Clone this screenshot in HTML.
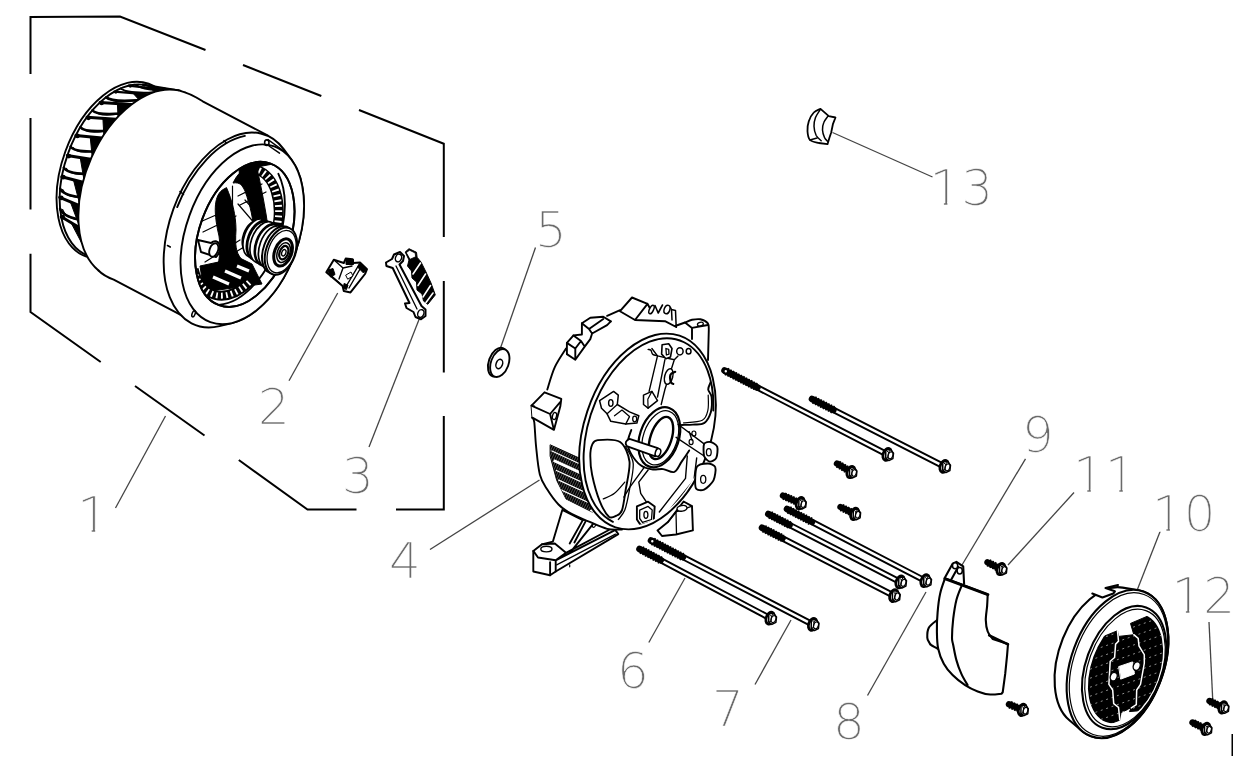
<!DOCTYPE html>
<html><head><meta charset="utf-8"><title>Exploded view</title>
<style>
html,body{margin:0;padding:0;background:#fff;}
body{width:1233px;height:782px;overflow:hidden;position:relative;}
svg{position:absolute;left:0;top:0;display:block;}
.lbl{font-family:"DejaVu Sans Light","DejaVu Sans","Liberation Sans",sans-serif;font-weight:200;font-size:50px;fill:#6a6a6a;stroke:#fff;stroke-width:0.6px;}
.fr{stroke:#000;stroke-width:2;fill:none;stroke-linecap:butt;}
.ld{stroke:#444;stroke-width:1.3;fill:none;}
.p{stroke:#000;stroke-width:1.9;fill:none;stroke-linejoin:round;stroke-linecap:round;}
.pw{stroke:#000;stroke-width:1.9;fill:#fff;stroke-linejoin:round;stroke-linecap:round;}
.k{fill:#000;stroke:#000;stroke-width:1;stroke-linejoin:round;}
#part9 .p,#part9 .pw,#part10 .p,#part10 .pw{stroke-width:2.1px}
</style></head>
<body>
<svg width="1233" height="782" viewBox="0 0 1233 782">
<rect width="1233" height="782" fill="#fff"/>
<!-- FRAME -->
<g class="fr" id="frame">
<path d="M30.5 74V17L120 16.5L205.5 50"/>
<path d="M243 65L321.3 96"/>
<path d="M359 110L443.8 143.8V237"/>
<path d="M443.8 281V372.5"/>
<path d="M443.8 416V509.5H396"/>
<path d="M356.5 509.5H307.5L238.8 460"/>
<path d="M204.5 435.5L135 386"/>
<path d="M100.7 362L30.5 312V253.8"/>
<path d="M30.5 209.5V118"/>
</g>
<!-- LEADERS -->
<g class="ld" id="leaders">
<path d="M165.5 416L115.5 508"/>
<path d="M337.7 293L289 380.7"/>
<path d="M420 317L369 447"/>
<path d="M539.5 480L430 549.5"/>
<path d="M535.5 247.5L500.5 348"/>
<path d="M685 578L648.8 642.5"/>
<path d="M791 620L755 684.5"/>
<path d="M926 592L867.5 695.5"/>
<path d="M1025.5 458.8L962 565"/>
<path d="M1074 492.5L1008 565"/>
<path d="M1160.5 530.5L1137 590.5"/>
<path d="M1209 622L1212.7 699"/>
<path d="M832.5 132.5L932.5 177"/>
</g>
<!-- PARTS -->
<g id="rotor">
<ellipse class="p" cx="117.2" cy="170.1" rx="55.1" ry="91.9" transform="rotate(20 117.2 170.1)"/>
<ellipse class="p" cx="119.2" cy="171.1" rx="54.1" ry="90.2" transform="rotate(20 119.2 171.1)"/>
<path class="p" d="M61.2 216.7L78.9 227.2" style="stroke-width:3"/>
<circle cx="62.7" cy="217.2" r="2.4" fill="#000"/>
<path class="p" d="M60.1 208.7Q61.7 215.4 78.4 219.6" style="stroke-width:2.6"/>
<path class="p" d="M62.6 209.7Q64.7 217.4 78.4 219.6" style="stroke-width:1.4"/>
<path class="p" d="M59.7 197.4L78.9 205.3" style="stroke-width:3"/>
<circle cx="61.2" cy="197.9" r="2.4" fill="#000"/>
<path class="p" d="M60.2 188.7Q62.1 194.8 79.8 197.2" style="stroke-width:2.6"/>
<path class="p" d="M62.7 189.7Q65.1 196.8 79.8 197.2" style="stroke-width:1.4"/>
<path class="p" d="M61.8 176.7L82.9 182.2" style="stroke-width:3"/>
<circle cx="63.3" cy="177.2" r="2.4" fill="#000"/>
<path class="p" d="M63.8 167.6Q66.1 173.2 85.3 174" style="stroke-width:2.6"/>
<path class="p" d="M66.3 168.6Q69.1 175.2 85.3 174" style="stroke-width:1.4"/>
<path class="p" d="M67.3 155.6L90.7 159.3" style="stroke-width:3"/>
<circle cx="68.8" cy="156.1" r="2.4" fill="#000"/>
<path class="p" d="M70.6 146.7Q73.6 151.9 94.4 151.4" style="stroke-width:2.6"/>
<path class="p" d="M73.1 147.7Q76.6 153.9 94.4 151.4" style="stroke-width:1.4"/>
<path class="p" d="M75.9 135.4L101.9 137.9" style="stroke-width:3"/>
<circle cx="77.4" cy="135.9" r="2.4" fill="#000"/>
<path class="p" d="M80.4 127.3Q83.9 132.2 106.6 130.8" style="stroke-width:2.6"/>
<path class="p" d="M82.9 128.3Q86.9 134.2 106.6 130.8" style="stroke-width:1.4"/>
<path class="p" d="M87 117.3L115.8 119.2" style="stroke-width:3"/>
<circle cx="88.5" cy="117.8" r="2.4" fill="#000"/>
<path class="p" d="M92.4 110.5Q96.6 115.2 121.3 113.5" style="stroke-width:2.6"/>
<path class="p" d="M94.9 111.5Q99.6 117.2 121.3 113.5" style="stroke-width:1.4"/>
<path class="p" d="M100.1 102.4L131.6 104.5" style="stroke-width:3"/>
<circle cx="101.6" cy="102.9" r="2.4" fill="#000"/>
<path class="p" d="M106.1 97.3Q110.9 102 137.5 100.3" style="stroke-width:2.6"/>
<path class="p" d="M108.6 98.3Q113.9 104 137.5 100.3" style="stroke-width:1.4"/>
<path class="p" d="M114.3 91.6L148.2 94.5" style="stroke-width:2.2"/>
<circle cx="115.8" cy="92.1" r="1.6" fill="#000"/>
<path class="p" d="M120.5 88.4Q125.9 93.4 154.2 92.2" style="stroke-width:1.6"/>
<path class="p" d="M123 89.4Q128.9 95.4 154.2 92.2" style="stroke-width:1.4"/>
<path class="p" d="M128.8 85.6L164.9 89.8" style="stroke-width:2.2"/>
<circle cx="130.3" cy="86.1" r="1.6" fill="#000"/>
<path class="p" d="M134.8 84.5Q140.8 89.8 170.6 89.5" style="stroke-width:1.6"/>
<path class="p" d="M137.3 85.5Q143.8 91.8 170.6 89.5" style="stroke-width:1.4"/>
<path class="p" d="M142.7 84.6L180.4 90.8" style="stroke-width:2.2"/>
<circle cx="144.2" cy="85.1" r="1.6" fill="#000"/>
<path class="p" d="M148.3 85.7Q154.6 91.4 185.6 92.6" style="stroke-width:1.6"/>
<path class="p" d="M150.8 86.7Q157.6 93.4 185.6 92.6" style="stroke-width:1.4"/>
<path class="p" d="M155.2 88.7L194 97.4" style="stroke-width:2.2"/>
<circle cx="156.7" cy="89.2" r="1.6" fill="#000"/>
<path class="p" d="M159.9 92Q166.5 98.3 198.2 101.1" style="stroke-width:1.6"/>
<path class="p" d="M162.4 93Q169.5 100.3 198.2 101.1" style="stroke-width:1.4"/>
<path class="p" d="M165.6 97.8L204.8 109.2" style="stroke-width:2.2"/>
<circle cx="167.1" cy="98.3" r="1.6" fill="#000"/>
<path class="p" d="M169.2 103Q175.9 109.9 207.9 114.5" style="stroke-width:1.6"/>
<path class="p" d="M171.7 104Q178.9 111.9 207.9 114.5" style="stroke-width:1.4"/>
<path class="k" d="M70.9 222.5L78.9 227.2L82.2 244Z"/>
<path class="k" d="M70.3 201.8L78.9 205.3L78.7 224.2Z"/>
<path class="k" d="M73.4 179.7L82.9 182.2L79.2 202.1Z"/>
<path class="k" d="M80.2 157.6L90.7 159.3L83.8 178.9Z"/>
<path class="k" d="M90.2 136.7L101.9 137.9L92.1 156.1Z"/>
<path class="k" d="M102.9 118.4L115.8 119.2L103.8 135Z"/>
<path class="k" d="M117.4 103.6L131.6 104.5L118 116.9Z"/>
<path class="k" d="M133 93.2L148.2 94.5L138.7 99.6Z"/>
<path class="k" d="M148.6 87.9L164.9 89.8L155.4 91.8Z"/>
<path class="k" d="M163.4 88L180.4 90.8L171.7 89.6Z"/>
<path class="k" d="M176.5 93.5L194 97.4L186.5 93Z"/>
<path class="k" d="M187.2 104.1L204.8 109.2L199 101.9Z"/>
<ellipse class="pw" cx="147.2" cy="184.7" rx="61.9" ry="99.8" transform="rotate(22.6 147.2 184.7)" style="stroke:none"/>
<path class="pw" d="M188.7 94L267.5 135.4L184.5 316.8L105.7 275.4Z" style="stroke:none"/>
<path class="p" d="M178.5 90.4A61.9 99.8 22.6 0 0 98.5 270.5"/>
<path class="p" d="M178.5 90.4Q189.7 93 202.7 101.3L267.5 135.4"/>
<path class="p" d="M98.5 270.5Q103.7 275.9 113.7 279.6L184.5 316.8"/>
<path class="pw" d="M219.5 326.1A60.8 101.3 20 1 1 283.9 149.4L291.6 159.9A56.1 93.5 20 0 1 232.2 323Z"/>
<path class="p" d="M177.2 207.1A59.8 99.6 20 0 1 244.9 135.9"/>
<ellipse class="pw" cx="242.3" cy="234.3" rx="56.1" ry="93.5" transform="rotate(20 242.3 234.3)"/>
<ellipse class="pw" cx="244.8" cy="234.4" rx="45.2" ry="75.3" transform="rotate(20 244.8 234.4)"/>
<ellipse class="p" cx="266.8" cy="142.7" rx="2.2" ry="2.8" style="stroke-width:1.6"/>
<path class="p" d="M268 139.6L284.5 151.5M269 146L279.5 153.2" style="stroke-width:1.5"/>
<ellipse class="p" cx="193.6" cy="313.8" rx="1.5" ry="3.2" transform="rotate(20 193.6 313.8)" style="stroke-width:1.5"/>
<path class="p" d="M183.5 194.5L180 191.5M226.5 143L224 140.5M170.3 247L167.5 245.5" style="stroke-width:1.6"/>
<clipPath id="cpE3"><ellipse class="p" cx="244.8" cy="234.4" rx="45.2" ry="75.3" transform="rotate(20 244.8 234.4)"/></clipPath>
<g clip-path="url(#cpE3)">
<path class="p" d="M200 222L232 208M203 232L236 216M238 196L262 184M240 205L266 192M238 204L262 232M245 200L268 226M205 262L240 240M209 268L244 247M232.5 186V212" style="stroke-width:1.2"/>
<path class="pw" d="M198 240L211 243A5 7.5 20 0 1 216 257L201 252Z"/>
<ellipse class="pw" cx="213.8" cy="250" rx="4.2" ry="7" transform="rotate(20 213.8 250)"/>
<path class="p" d="M252.3 169A39.5 65.9 20 0 1 275.1 237" style="stroke-width:10;stroke-linecap:butt"/>
<path class="p" d="M253.7 169.2A39.5 65.9 20 0 1 275.1 237" style="stroke:#fff;stroke-width:7;stroke-dasharray:1.8 3.4;stroke-linecap:butt"/>
<path class="k" d="M222.3 190C213 197 214 215 219 236C221 250 219 258 218.6 262L200 266L204 292L262 284L252 264L241 258.6C236 252 235 246 236 230C236 215 232 200 226.5 187.6Z"/>
<path class="k" d="M239 169.1A45.2 75.3 20 0 1 272 164.2L257 167L240 182Z"/>
<path class="k" d="M233 183C240 168 252 163 263 161L256.5 166C260 181 263.7 200 266.2 215L270 240L254 238C254 220 250 205 245 191C242 185 240 182 233 183Z"/>
<path class="p" d="M249.2 282.4A39.5 65.9 20 0 1 193.6 269.2" style="stroke-width:10;stroke-linecap:butt"/>
<path class="p" d="M249.2 282.4A39.5 65.9 20 0 1 194.1 270.9" style="stroke:#fff;stroke-width:6;stroke-dasharray:1.8 3.2;stroke-linecap:butt"/>
<path class="p" d="M213 277L229 284M225 271L241 278M237 266L249 271" style="stroke:#fff;stroke-width:3.2;stroke-linecap:butt"/>
<path class="p" d="M278.4 173.8A47 78.4 20 0 1 187.8 285.4"/>
</g>
<ellipse class="p" cx="244.8" cy="234.4" rx="45.2" ry="75.3" transform="rotate(20 244.8 234.4)"/>
<ellipse class="pw" cx="253.5" cy="236.8" rx="10.2" ry="17" transform="rotate(20 253.5 236.8)" style="stroke-width:1.7"/>
<ellipse class="pw" cx="256.1" cy="238.2" rx="12" ry="20" transform="rotate(20 256.1 238.2)" style="stroke-width:1.7"/>
<ellipse class="pw" cx="260.1" cy="240.3" rx="12" ry="20" transform="rotate(20 260.1 240.3)" style="stroke-width:2.8"/>
<ellipse class="pw" cx="264.1" cy="242.4" rx="12.9" ry="21.5" transform="rotate(20 264.1 242.4)" style="stroke-width:1.7"/>
<ellipse class="pw" cx="269" cy="244.9" rx="12.9" ry="21.5" transform="rotate(20 269 244.9)" style="stroke-width:2.6"/>
<ellipse class="pw" cx="272.9" cy="247" rx="13.2" ry="22" transform="rotate(20 272.9 247)" style="stroke-width:1.7"/>
<ellipse class="pw" cx="278.2" cy="249.8" rx="14.7" ry="24.5" transform="rotate(20 278.2 249.8)" style="stroke-width:2"/>
<ellipse class="pw" cx="280.9" cy="251.2" rx="14.7" ry="24.5" transform="rotate(20 280.9 251.2)" style="stroke-width:2"/>
<ellipse class="pw" cx="281.6" cy="251.6" rx="13.2" ry="22" transform="rotate(20 281.6 251.6)" style="stroke-width:1.3"/>
<ellipse class="pw" cx="283.1" cy="252.4" rx="8.5" ry="14.2" transform="rotate(20 283.1 252.4)" style="stroke-width:3"/>
<ellipse class="pw" cx="283.6" cy="252.6" rx="6.2" ry="10.3" transform="rotate(20 283.6 252.6)" style="stroke-width:1.5"/>
<ellipse class="pw" cx="283.8" cy="252.7" rx="4.2" ry="7" transform="rotate(20 283.8 252.7)" style="stroke-width:2.2"/>
<ellipse class="pw" cx="283.8" cy="252.7" rx="2" ry="3.3" transform="rotate(20 283.8 252.7)" style="stroke-width:1.4"/>
</g>
<g id="part2">
<path class="pw" d="M326.3 272.3L333.8 259.8L343.8 263L345.7 258.6L352.6 259.2L353.2 263L360 262.5L367 269.2L365 274L350.5 292.4L343.8 291L342.6 286Z" style="stroke-width:2"/>
<path class="p" d="M358.9 264.8L346.3 286M361.5 266.5L349 288M333.8 259.8L343 268L339 279M343 268L352 266M327 272L342.6 286" style="stroke-width:1.4"/>
<path class="k" d="M328 270L333 268.5L335 274.5L330.5 277Z M346 259.5H353.5V264.5H346Z M360 263L366.5 269L363.5 273L357.5 267Z M344 283.5L348 285L346.5 289.5L343.5 288.5Z"/>
<path class="pw" d="M346 275L351 272L353 276L348 279Z" style="stroke-width:1"/>
</g>
<g id="part3">
<path class="pw" d="M386 262.5L392 259L394 254.5L400 252L404 256L403 261L399.5 264.5L421.5 306L425.5 309.5L425.5 316L421 319.3L415.5 317L413.5 312L406.5 308L405 303.5L409.5 303L392.7 268L386.4 266Z" style="stroke-width:2"/>
<path class="p" d="M396 266L417 309" style="stroke-width:1.3"/>
<ellipse class="pw" cx="398.5" cy="258" rx="3" ry="4" transform="rotate(20 398.5 258)" style="stroke-width:1.4"/>
<ellipse class="pw" cx="420.8" cy="313.5" rx="3" ry="4" transform="rotate(20 420.8 313.5)" style="stroke-width:1.4"/>
<path class="k" d="M405.2 252L409 248.7L416.5 252.3L417.1 257.3L421 262L426 272L431 283L435.3 294.9L427.8 304.3L423.5 301L422 294L417 290L416.5 282L412 278L411.5 271L407.5 266L409 260Z"/>
<path class="pw" d="M406.5 252.5L409.5 250.2L415.2 253L415.6 256.8L410.2 259.2Z" style="stroke-width:0.8"/>
<path class="p" d="M420.5 263L413 274M425.5 274L418 285.5M430.5 285.5L423 297M433 293L426 302.5" style="stroke:#fff;stroke-width:1.6"/>
</g>
<g id="housing">
<path class="pw" d="M657.5 530.4L668 522L683.6 501.5L692 506.1L692.9 530.4L676 534.5L662 536Z"/>
<path class="p" d="M692 506.1L676 512L668 522M676 512L676.5 534" style="stroke-width:1.3"/>
<ellipse class="pw" cx="682" cy="508.3" rx="5" ry="2.8" transform="rotate(-10 682 508.3)" style="stroke-width:1.3"/>
<path class="pw" d="M562.3 509.9L552.9 541.6L541.7 544.4L533.3 550.9L533.3 571.5L550.1 575.2L555.7 571.5L618.3 534.1L614.5 528.9L597.7 517.3L582.8 520.1Z"/>
<path class="p" d="M533.3 550.9L538 557.5L555.7 560.3L555.7 571.5M555.7 560.3L566 552.8L554.8 543.5L541.7 544.4M555.7 560.3L614.5 530.4M566 552.8L608.9 530M582.8 520.1L569.7 543.5M585.6 521.4L574.4 542.5M593.1 523.9L570.7 551.9M550.1 575.2L550.1 562.1"/>
<path class="p" d="M556.7 564.9L615.5 534.1M569.7 564.9L569.7 566.8" style="stroke-width:1.2"/>
<ellipse class="pw" cx="546.4" cy="549.1" rx="5.6" ry="2.8" style="stroke-width:1.4"/>
<ellipse class="p" cx="594" cy="524.8" rx="1.6" ry="2.6" transform="rotate(20 594 524.8)" style="stroke-width:1.3"/>
<path class="pw" d="M534.3 404.5L541 398L547.3 389.5L554.8 367.1L566 348.5L566.9 342.9L573.5 335.4L581.9 334.5L581.9 323.3L590.3 317.7L603.3 316.3L607.1 315.8L620.1 310.2L631.3 297.1L638.8 299.9L646.3 303.7L653.7 301.8L664.9 305.5L666.8 309.3L674.3 310.2L675.2 326L685 322.5L700.4 319.5L707.9 323.3L708.8 329.8L708.5 360L716 405L690 480L640 528L622 529.5L607.1 528.8L588.4 521.3L571.6 513.9L558.5 504.5L547.3 489.6L539.9 474.7L536.1 446.7L534.3 422.4L532.4 417.7Z" style="stroke:none"/>
<path class="p" d="M534.3 404.5L531.5 405.6L532.4 417.7"/>
<path class="p" d="M547.3 389.5C548.5 385.8 551.7 373.9 554.8 367.1C557.9 360.3 564.1 351.6 566 348.5"/>
<path class="p" d="M566.9 354.1L566.9 342.9L573.5 335.4L581.9 334.5L581.9 323.3L590.3 317.7L603.3 316.7L610.8 321.4"/>
<path class="p" d="M607.1 315.8L620.1 310.2"/>
<path class="p" d="M675.2 326L685 322.5M685 322.5C686.2 322.1 689.4 320.3 692 319.8C694.6 319.3 697.8 318.7 700.4 319.3C703 319.9 706.5 321.6 707.9 323.3C709.3 325.1 708.6 328.7 708.8 329.8M708.8 329.8L708 360"/>
<path class="p" d="M532.4 417.7C532.7 418.5 533.7 417.6 534.3 422.4C534.9 427.2 535.2 438 536.1 446.7C537 455.4 538 467.5 539.9 474.7C541.8 481.9 544.2 484.6 547.3 489.6C550.4 494.6 554.5 500.4 558.5 504.5C562.5 508.6 566.6 511.1 571.6 513.9C576.6 516.7 582.5 518.8 588.4 521.3C594.3 523.8 601.5 527.4 607.1 528.8C612.7 530.2 619.5 529.4 622 529.5"/>
<path class="pw" d="M531.5 405.6L544.5 392.3L561.3 398.9L560.4 406L553.9 429.9L532.4 417.7M531.5 405.6L550.1 414L560.4 401.9M550.1 414L553.9 429.9"/>
<ellipse class="pw" cx="554.5" cy="416" rx="2" ry="3.6" transform="rotate(15 554.5 416)" style="stroke-width:1.3"/>
<path class="p" d="M566.9 354.1L575.3 359.7L584.7 346.6L590.3 339.1L592.1 333.5L607.1 325.1L610.8 321.4M573.5 335.4L581 341L584.7 346.6M581.9 323.3L589 329L592.1 333.5M589 329L603.3 319M566.9 342.9L575.3 348.5L575.3 359.7M575.3 348.5L581 341"/>
<path class="p" d="M620 311.2L632 297.5L647.5 303.8L635 320ZM635 320L665 321.2L676.2 327M647.5 303.8L649.5 307.5"/>
<ellipse class="p" cx="651.5" cy="309.5" rx="2" ry="4.6" transform="rotate(25 651.5 309.5)" style="stroke-width:1.5"/>
<path class="p" d="M655 305.5L658.2 313L662.5 305" style="stroke-width:1.6"/>
<ellipse class="p" cx="667" cy="309.5" rx="2.8" ry="4.4" transform="rotate(20 667 309.5)" style="stroke-width:1.5"/>
<path class="p" d="M670.5 307.5L671.5 309.5L675.5 310.5L676.2 327M671.5 309.5L672 320" style="stroke-width:1.5"/>
<path class="p" d="M692 327.9L692 339.1M685 322.5L692 327.9L707.9 325"/>
<ellipse class="p" cx="700.4" cy="324.2" rx="3" ry="1.8" transform="rotate(-15 700.4 324.2)" style="stroke-width:1.3"/>
<clipPath id="cpV"><path d="M550.1 444.8L582.8 459.7L587.5 462.5L597.7 510.1L592.1 512L566 498.9L556.7 480.3L550.1 456Z"/></clipPath>
<path class="k" d="M550.1 444.8L582.8 459.7L587.5 462.5L597.7 510.1L592.1 512L566 498.9L556.7 480.3L550.1 456Z"/>
<g clip-path="url(#cpV)">
<path class="p" d="M495 520L535 440M497.6 520L537.6 440M500.2 520L540.2 440M502.8 520L542.8 440M505.4 520L545.4 440M508 520L548 440M510.6 520L550.6 440M513.2 520L553.2 440M515.8 520L555.8 440M518.4 520L558.4 440M521 520L561 440M523.6 520L563.6 440M526.2 520L566.2 440M528.8 520L568.8 440M531.4 520L571.4 440M534 520L574 440M536.6 520L576.6 440M539.2 520L579.2 440M541.8 520L581.8 440M544.4 520L584.4 440M547 520L587 440M549.6 520L589.6 440M552.2 520L592.2 440M554.8 520L594.8 440M557.4 520L597.4 440M560 520L600 440M562.6 520L602.6 440M565.2 520L605.2 440M567.8 520L607.8 440M570.4 520L610.4 440M573 520L613 440M575.6 520L615.6 440M578.2 520L618.2 440M580.8 520L620.8 440M583.4 520L623.4 440M586 520L626 440M588.6 520L628.6 440M591.2 520L631.2 440M593.8 520L633.8 440M596.4 520L636.4 440M599 520L639 440M601.6 520L641.6 440M604.2 520L644.2 440M606.8 520L646.8 440M609.4 520L649.4 440M612 520L652 440M614.6 520L654.6 440M617.2 520L657.2 440M619.8 520L659.8 440M622.4 520L662.4 440M625 520L665 440M627.6 520L667.6 440M630.2 520L670.2 440M632.8 520L672.8 440M635.4 520L675.4 440M638 520L678 440" style="stroke:#fff;stroke-width:0.45;opacity:.7"/>
<path class="p" d="M551.4 450.8L583.7 465.7" style="stroke:#fff;stroke-width:1.2;stroke-linecap:butt"/>
<circle cx="580.2" cy="462.7" r="1.7" fill="#fff"/>
<path class="p" d="M553.7 460.5L586 475.4" style="stroke:#fff;stroke-width:3;stroke-linecap:butt"/>
<circle cx="582.5" cy="472.4" r="1.7" fill="#fff"/>
<path class="p" d="M555.9 470.2L588.2 485.1" style="stroke:#fff;stroke-width:1.2;stroke-linecap:butt"/>
<circle cx="584.7" cy="482.1" r="1.7" fill="#fff"/>
<path class="p" d="M558.2 479.9L590.5 494.8" style="stroke:#fff;stroke-width:1.2;stroke-linecap:butt"/>
<circle cx="587" cy="491.8" r="1.7" fill="#fff"/>
<path class="p" d="M560.4 489.6L592.7 504.5" style="stroke:#fff;stroke-width:1.2;stroke-linecap:butt"/>
<circle cx="589.2" cy="501.5" r="1.7" fill="#fff"/>
<path class="p" d="M562.6 499.3L594.9 514.2" style="stroke:#fff;stroke-width:1.2;stroke-linecap:butt"/>
<circle cx="591.4" cy="511.2" r="1.7" fill="#fff"/>
</g>
<ellipse class="pw" cx="647.5" cy="431.5" rx="63.5" ry="101" transform="rotate(18.5 647.5 431.5)"/>
<path class="p" d="M612.9 521.8A60.3 96.8 18.5 1 1 713.3 410.5"/>
<clipPath id="cpEH"><ellipse class="p" cx="648.5" cy="432" rx="60.3" ry="96.8" transform="rotate(18.5 648.5 432)"/></clipPath>
<g clip-path="url(#cpEH)">
<path class="pw" d="M592.1 444.8C593.3 442.4 593.5 440.6 597.7 440.1C601.9 439.7 615.4 438.8 620.1 442C624.9 445.2 628.6 454.5 629.5 461.6C630.3 468.7 626.9 482.3 625.7 489.6C624.6 496.9 623.4 506.2 622 510.1C620.6 514.1 618.4 514.8 616.4 515.7C614.4 516.7 611.5 518.9 608.9 516.7C606.4 514.4 602.1 507.1 599.6 500.8C597.1 494.5 593.5 481.4 592.1 474.7C590.7 467.9 590.3 460.5 590.3 456C590.3 451.5 591 447.2 592.1 444.8Z"/>
<path class="p" d="M603.3 498.9C605.2 498 611 496.1 614.5 493.3C618.1 490.5 623.1 484 624.8 482.1" style="stroke-width:1.3"/>
<path class="p" d="M625.7 446.7C627 449.5 632.6 456.3 633.2 463.5C633.8 470.6 630.9 481.8 629.5 489.6C628.1 497.4 626.7 505.2 624.8 510.1C622.9 515.1 619.4 517.9 618.3 519.5" style="stroke-width:1.3"/>
<path class="p" d="M631.3 429.9C630.7 432 627.6 438.9 627.6 442.9C627.6 447 629.2 450.4 631.3 454.1C633.5 457.9 637.2 462.8 640.7 465.3C644.1 467.9 648.1 468.8 651.9 469.4C655.6 470.1 659.3 468.7 663.1 469.1C666.8 469.5 671.2 473.1 674.3 471.9C677.4 470.6 679.2 465.2 681.7 461.6C684.2 458 688 452.3 689.2 450.4"/>
<path class="p" d="M644.4 467.2L629.5 487.7L623.9 497.1M648.1 470L638.8 482.1L640.7 493.3L648.1 504.5M687.3 456L685.5 478.4L659.3 512M696.7 457.9L693.9 480.3L664.9 515.7M704.1 461.6L696.7 482.1" style="stroke-width:1.4"/>
<ellipse class="pw" cx="659.3" cy="437.3" rx="19.5" ry="31" transform="rotate(18.7 659.3 437.3)" style="stroke-width:2.2"/>
<ellipse class="p" cx="660.3" cy="437.8" rx="17" ry="28" transform="rotate(18.7 660.3 437.8)" style="stroke-width:1.3"/>
<ellipse class="pw" cx="661" cy="438" rx="10.5" ry="22" transform="rotate(18.7 661 438)" style="stroke-width:2.4"/>
<path class="pw" d="M629.5 438.8L657.8 448.2L655.2 456.4L626.7 446.1Q623.7 441.5 629.5 438.8Z"/>
<ellipse class="pw" cx="658" cy="452.5" rx="2.6" ry="4" transform="rotate(18 658 452.5)" style="stroke-width:1.5"/>
<path class="pw" d="M636.9 506.4L648.1 501.7L654.7 506.4L653.7 521.3L640.7 525.1L636.9 519.5Z"/>
<path class="p" d="M639.7 510.1L648.1 506.4L652.2 510.1L651.5 519.5L642.5 522.3L639.7 518.5Z" style="stroke-width:1.3"/>
<ellipse class="p" cx="645.9" cy="514.8" rx="2" ry="3.5" style="stroke-width:1.3"/>
<path class="p" d="M657.5 355.9L649.1 391.4M664.9 359.7L657.5 397M674.3 359.7L664.9 389.5L661.2 404.5M651.9 348.5L657.5 355.9L674.3 359.7L678 355.9" style="stroke-width:1.4"/>
<path class="pw" d="M662.1 344.7L668.7 343.8L672 348.5L670.5 356.9L665.9 358.7L661.6 354.1Z" style="stroke-width:1.6"/>
<path class="p" d="M665.9 348.5L668.7 349.4L669 354.1L666.4 355Z" style="stroke-width:1.3"/>
<ellipse class="p" cx="679.9" cy="351.3" rx="3.2" ry="3.6" style="stroke-width:1.5"/>
<ellipse class="p" cx="688.6" cy="351.3" rx="2.4" ry="2.8" style="stroke-width:1.5"/>
<path class="p" d="M648.1 349.4C648.6 349.6 650.2 349.5 650.9 350.3C651.7 351.2 651.7 353.6 652.8 354.4C653.9 355.3 656.7 355.4 657.5 355.6" style="stroke-width:1.4"/>
<ellipse class="pw" cx="668.7" cy="376.5" rx="4" ry="8" transform="rotate(15 668.7 376.5)" style="stroke-width:1.5"/>
<path class="p" d="M675.2 371.8C674.4 372.3 671.3 372.9 670.5 374.6C669.8 376.3 670.4 380.5 670.9 382.1C671.4 383.6 672.9 383.6 673.3 383.9" style="stroke-width:2.2"/>
<path class="pw" d="M599.6 400.7L613.6 391.4L618.3 395.1L617.3 404.5L629.5 411.9L638.8 415.7L636.9 423.1L625.7 424.1L610.8 421.3L607.1 413.8L601.5 408.2Z" style="stroke-width:1.5"/>
<ellipse class="p" cx="610.8" cy="403" rx="2.2" ry="3.4" style="stroke-width:1.4"/>
<ellipse class="p" cx="634.7" cy="419" rx="2" ry="2.8" style="stroke-width:1.3"/>
<path class="p" d="M607.1 413.8L617.3 404.5M614.5 415.7L622 410.1L629.5 416.6L625.7 424.1" style="stroke-width:1.3"/>
<path class="pw" d="M643.5 395.1L651.9 391.4L657.5 400.7L648.1 408.2L643.5 404.5Z" style="stroke-width:1.5"/>
<path class="p" d="M647.8 399.2L651.9 391.4M647.8 399.2L648.1 408.2" style="stroke-width:1.2"/>
<path class="p" d="M710.7 382.1C710.3 383.3 708.1 387 708.2 389.5C708.4 392 711.2 393.3 711.6 397C712 400.7 712.1 407.6 710.9 411.9C709.6 416.3 707.1 421 704.1 423.1C701.2 425.3 696.7 424.3 692.9 424.6C689.2 424.9 683.6 424.9 681.7 425"/>
<path class="p" d="M708.2 395.1C708.2 397.6 708.9 405.9 707.9 410.1C706.9 414.3 706.3 418.2 702.3 420.3C698.2 422.5 686.7 422.4 683.6 422.8" style="stroke-width:1.2"/>
</g>
<path class="pw" d="M704.1 443.9C705 442 708.9 441.6 710.7 442C712.4 442.4 716.5 444.6 717.2 446.7C718 448.8 717.3 455.9 716.3 457.9C715.3 459.9 711.4 461.9 709.7 461.6C708.1 461.4 704.9 458.4 704.1 456C703.4 453.6 703.3 445.7 704.1 443.9Z"/>
<ellipse class="p" cx="708.8" cy="452.3" rx="2.4" ry="3.6" style="stroke-width:1.3"/>
<path class="pw" d="M696.7 467.2C698.3 464 705.4 463.5 707.9 463.5C710.4 463.5 714.6 465 715.3 467.2C716.1 469.4 715 477.3 713.5 480.3C712 483.3 706.5 488.6 704.1 489.6C701.8 490.6 696.7 490.7 695.7 487.7C694.7 484.7 695.1 470.4 696.7 467.2Z"/>
<ellipse class="p" cx="703.2" cy="479.3" rx="2.6" ry="4" style="stroke-width:1.3"/>
<path class="p" d="M678 424.3L704.1 443.9M676.1 437.3L704.1 456M689.2 431.7L692 440.1" style="stroke-width:1.4"/>
<ellipse class="p" cx="693.9" cy="433.6" rx="2" ry="2.6" style="stroke-width:1.2"/>
<ellipse class="p" cx="691.1" cy="442" rx="2" ry="2.6" style="stroke-width:1.2"/>
</g>
<g id="bolts">
<path class="pw" d="M756.4 389.4L884.6 455.6L886.6 451.7L758.4 385.5Z" style="stroke:none"/>
<path class="p" d="M756.4 389.4L884.6 455.6M758.4 385.5L886.6 451.7" style="stroke-width:1.9;stroke-linecap:butt"/>
<path class="p" d="M724.5 370.5L757.4 387.5" style="stroke-width:6.6;stroke-linecap:round"/>
<path class="p" d="M726.3 371.4L757.4 387.5" style="stroke-width:8;stroke-linecap:butt;stroke-dasharray:1.6 1.3"/>
<circle class="pw" cx="725.8" cy="371.2" r="2.2" style="stroke-width:2"/>
<ellipse class="pw" cx="887.1" cy="454.4" rx="3.9" ry="6.2" transform="rotate(20 887.1 454.4)" style="stroke-width:2.8"/><path class="pw" d="M885.8 449.8L890.5 449.6L893.5 453.2L892.9 458.6L888.9 460.6L885.7 458.2Z" style="stroke-width:1.5"/><ellipse class="p" cx="890.5" cy="455.3" rx="2.3" ry="3.6" transform="rotate(20 890.5 455.3)" style="stroke-width:1.2"/><path class="p" d="M885.8 449.8L888.5 452.4L887.9 457.6L885.7 458.2M888.5 452.4L890.5 449.6" style="stroke-width:1"/>
<path class="pw" d="M832.4 411.9L941.6 467.6L943.6 463.7L834.4 407.9Z" style="stroke:none"/>
<path class="p" d="M832.4 411.9L941.6 467.6M834.4 407.9L943.6 463.7" style="stroke-width:1.9;stroke-linecap:butt"/>
<path class="p" d="M812 399L833.4 409.9" style="stroke-width:6.6;stroke-linecap:round"/>
<path class="p" d="M813.8 399.9L833.4 409.9" style="stroke-width:8;stroke-linecap:butt;stroke-dasharray:1.6 1.3"/>
<ellipse class="pw" cx="944.1" cy="466.4" rx="3.9" ry="6.2" transform="rotate(20 944.1 466.4)" style="stroke-width:2.8"/><path class="pw" d="M942.8 461.8L947.5 461.6L950.5 465.2L949.9 470.6L945.9 472.6L942.7 470.2Z" style="stroke-width:1.5"/><ellipse class="p" cx="947.5" cy="467.3" rx="2.3" ry="3.6" transform="rotate(20 947.5 467.3)" style="stroke-width:1.2"/><path class="p" d="M942.8 461.8L945.5 464.4L944.9 469.6L942.7 470.2M945.5 464.4L947.5 461.6" style="stroke-width:1"/>
<path class="pw" d="M781.4 540.3L891.3 596.8L893.3 592.9L783.5 536.4Z" style="stroke:none"/>
<path class="p" d="M781.4 540.3L891.3 596.8M783.5 536.4L893.3 592.9" style="stroke-width:1.9;stroke-linecap:butt"/>
<path class="p" d="M762 527.8L782.5 538.3" style="stroke-width:6.6;stroke-linecap:round"/>
<path class="p" d="M763.8 528.7L782.5 538.3" style="stroke-width:8;stroke-linecap:butt;stroke-dasharray:1.6 1.3"/>
<ellipse class="pw" cx="893.8" cy="595.6" rx="3.9" ry="6.2" transform="rotate(20 893.8 595.6)" style="stroke-width:2.8"/><path class="pw" d="M892.5 591L897.2 590.8L900.2 594.4L899.6 599.8L895.6 601.8L892.4 599.4Z" style="stroke-width:1.5"/><ellipse class="p" cx="897.2" cy="596.5" rx="2.3" ry="3.6" transform="rotate(20 897.2 596.5)" style="stroke-width:1.2"/><path class="p" d="M892.5 591L895.2 593.6L894.6 598.8L892.4 599.4M895.2 593.6L897.2 590.8" style="stroke-width:1"/>
<path class="pw" d="M788.6 526.9L897.6 583.1L899.6 579.2L790.6 523Z" style="stroke:none"/>
<path class="p" d="M788.6 526.9L897.6 583.1M790.6 523L899.6 579.2" style="stroke-width:1.9;stroke-linecap:butt"/>
<path class="p" d="M768.3 514L789.6 525" style="stroke-width:6.6;stroke-linecap:round"/>
<path class="p" d="M770.1 514.9L789.6 525" style="stroke-width:8;stroke-linecap:butt;stroke-dasharray:1.6 1.3"/>
<ellipse class="pw" cx="900.1" cy="581.9" rx="3.9" ry="6.2" transform="rotate(20 900.1 581.9)" style="stroke-width:2.8"/><path class="pw" d="M898.8 577.3L903.5 577.1L906.5 580.7L905.9 586.1L901.9 588.1L898.7 585.7Z" style="stroke-width:1.5"/><ellipse class="p" cx="903.5" cy="582.8" rx="2.3" ry="3.6" transform="rotate(20 903.5 582.8)" style="stroke-width:1.2"/><path class="p" d="M898.8 577.3L901.5 579.9L900.9 585.1L898.7 585.7M901.5 579.9L903.5 577.1" style="stroke-width:1"/>
<path class="pw" d="M810.8 523.9L922.6 581.9L924.7 578L812.9 519.9Z" style="stroke:none"/>
<path class="p" d="M810.8 523.9L922.6 581.9M812.9 519.9L924.7 578" style="stroke-width:1.9;stroke-linecap:butt"/>
<path class="p" d="M787 509L811.9 521.9" style="stroke-width:6.6;stroke-linecap:round"/>
<path class="p" d="M788.8 509.9L811.9 521.9" style="stroke-width:8;stroke-linecap:butt;stroke-dasharray:1.6 1.3"/>
<ellipse class="pw" cx="925.1" cy="580.7" rx="3.9" ry="6.2" transform="rotate(20 925.1 580.7)" style="stroke-width:2.8"/><path class="pw" d="M923.8 576.1L928.5 575.9L931.5 579.5L930.9 584.9L926.9 586.9L923.7 584.5Z" style="stroke-width:1.5"/><ellipse class="p" cx="928.5" cy="581.6" rx="2.3" ry="3.6" transform="rotate(20 928.5 581.6)" style="stroke-width:1.2"/><path class="p" d="M923.8 576.1L926.5 578.7L925.9 583.9L923.7 584.5M926.5 578.7L928.5 575.9" style="stroke-width:1"/>
<path class="pw" d="M659.7 562.2L767.6 619.3L769.7 615.5L661.7 558.3Z" style="stroke:none"/>
<path class="p" d="M659.7 562.2L767.6 619.3M661.7 558.3L769.7 615.5" style="stroke-width:1.9;stroke-linecap:butt"/>
<path class="p" d="M639.5 549L660.7 560.2" style="stroke-width:6.6;stroke-linecap:round"/>
<path class="p" d="M641.3 549.9L660.7 560.2" style="stroke-width:8;stroke-linecap:butt;stroke-dasharray:1.6 1.3"/>
<ellipse class="pw" cx="770.1" cy="618.2" rx="3.9" ry="6.2" transform="rotate(20 770.1 618.2)" style="stroke-width:2.8"/><path class="pw" d="M768.8 613.6L773.5 613.4L776.5 617L775.9 622.4L771.9 624.4L768.7 622Z" style="stroke-width:1.5"/><ellipse class="p" cx="773.5" cy="619.1" rx="2.3" ry="3.6" transform="rotate(20 773.5 619.1)" style="stroke-width:1.2"/><path class="p" d="M768.8 613.6L771.5 616.2L770.9 621.4L768.7 622M771.5 616.2L773.5 613.4" style="stroke-width:1"/>
<path class="pw" d="M681.9 559L810.1 625.6L812.2 621.7L684 555.1Z" style="stroke:none"/>
<path class="p" d="M681.9 559L810.1 625.6M684 555.1L812.2 621.7" style="stroke-width:1.9;stroke-linecap:butt"/>
<path class="p" d="M651 540.5L683 557.1" style="stroke-width:6.6;stroke-linecap:round"/>
<path class="p" d="M652.8 541.4L683 557.1" style="stroke-width:8;stroke-linecap:butt;stroke-dasharray:1.6 1.3"/>
<circle class="pw" cx="652.3" cy="541.2" r="2.2" style="stroke-width:2"/>
<ellipse class="pw" cx="812.6" cy="624.4" rx="3.9" ry="6.2" transform="rotate(20 812.6 624.4)" style="stroke-width:2.8"/><path class="pw" d="M811.3 619.8L816 619.6L819 623.2L818.4 628.6L814.4 630.6L811.2 628.2Z" style="stroke-width:1.5"/><ellipse class="p" cx="816" cy="625.3" rx="2.3" ry="3.6" transform="rotate(20 816 625.3)" style="stroke-width:1.2"/><path class="p" d="M811.3 619.8L814 622.4L813.4 627.6L811.2 628.2M814 622.4L816 619.6" style="stroke-width:1"/>
<path class="p" d="M837 463.6L848.6 470.5" style="stroke-width:6.4;stroke-linecap:round"/>
<path class="p" d="M837.9 464.1L848.6 470.5" style="stroke-width:7.8;stroke-linecap:butt;stroke-dasharray:1.7 1.2"/>
<ellipse class="pw" cx="850.9" cy="472" rx="3.7" ry="5.9" transform="rotate(20 850.9 472)" style="stroke-width:2.8"/><path class="pw" d="M849.6 467.7L854.1 467.5L856.9 470.9L856.4 476L852.6 477.9L849.5 475.6Z" style="stroke-width:1.5"/><ellipse class="p" cx="854.1" cy="472.9" rx="2.2" ry="3.4" transform="rotate(20 854.1 472.9)" style="stroke-width:1.2"/><path class="p" d="M849.6 467.7L852.2 470.1L851.6 475.1L849.5 475.6M852.2 470.1L854.1 467.5" style="stroke-width:1"/>
<path class="p" d="M783 495.6L797.6 502.2" style="stroke-width:6.4;stroke-linecap:round"/>
<path class="p" d="M783.9 496L797.6 502.2" style="stroke-width:7.8;stroke-linecap:butt;stroke-dasharray:1.7 1.2"/>
<ellipse class="pw" cx="800.2" cy="503.2" rx="3.7" ry="5.9" transform="rotate(20 800.2 503.2)" style="stroke-width:2.8"/><path class="pw" d="M798.9 498.9L803.4 498.7L806.2 502.1L805.7 507.2L801.9 509.1L798.8 506.8Z" style="stroke-width:1.5"/><ellipse class="p" cx="803.4" cy="504.1" rx="2.2" ry="3.4" transform="rotate(20 803.4 504.1)" style="stroke-width:1.2"/><path class="p" d="M798.9 498.9L801.5 501.3L800.9 506.3L798.8 506.8M801.5 501.3L803.4 498.7" style="stroke-width:1"/>
<path class="p" d="M840.5 507L852.1 512.7" style="stroke-width:6.4;stroke-linecap:round"/>
<path class="p" d="M841.4 507.4L852.1 512.7" style="stroke-width:7.8;stroke-linecap:butt;stroke-dasharray:1.7 1.2"/>
<ellipse class="pw" cx="854.6" cy="513.9" rx="3.7" ry="5.9" transform="rotate(20 854.6 513.9)" style="stroke-width:2.8"/><path class="pw" d="M853.3 509.6L857.8 509.4L860.6 512.8L860.1 517.9L856.3 519.8L853.2 517.5Z" style="stroke-width:1.5"/><ellipse class="p" cx="857.8" cy="514.8" rx="2.2" ry="3.4" transform="rotate(20 857.8 514.8)" style="stroke-width:1.2"/><path class="p" d="M853.3 509.6L855.9 512L855.3 517L853.2 517.5M855.9 512L857.8 509.4" style="stroke-width:1"/>
</g>
<g id="part9" style="stroke-width:2.1px">
<path class="pw" d="M936.9 620.2C935.6 621.4 930.4 624.8 928.8 627.7C927.2 630.6 927.2 635.2 927.3 637.7C927.4 640.2 928.7 641.5 929.4 642.7C930.1 644 929.8 644.2 931.3 645.2C932.8 646.3 937 648.4 938.2 649"/>
<path class="pw" d="M945.1 578.2C944.2 580.8 941.3 588.1 940.1 593.9C938.8 599.6 938.1 606.4 937.6 612.7C937 618.9 936.8 625.4 936.9 631.5C937 637.5 937 643.4 938.2 648.8C939.3 654.2 941.4 659.4 943.8 663.8C946.2 668.2 949 671.6 952.6 675.1C956.1 678.7 960.9 682.4 965.1 685.1C969.3 687.9 973.5 689.8 977.7 691.4C981.8 693 986.2 694.2 990.2 694.5C994.2 694.9 999.6 693.8 1001.5 693.7L1002.7 692.3L1005.2 673.9L1007.1 655.1L1008 644L992.7 639C991.9 637.7 988.8 634.6 987.7 631.5C986.5 628.3 985.9 624.4 985.8 620.2C985.7 616 986.7 610.7 987.1 606.4C987.4 602.1 987.6 596.5 987.7 594.5Z"/>
<path class="pw" d="M945.1 577.3L952.6 563.8L956.4 561.9L963.2 566.3L964.1 583.8M951.3 579.4L958.2 566.9"/>
<ellipse class="pw" cx="955.1" cy="565.7" rx="2.6" ry="3" style="stroke-width:1.5"/>
<ellipse class="pw" cx="959.7" cy="570.7" rx="2.6" ry="3.2" style="stroke-width:1.5"/>
<path class="p" d="M944.8 578.6L987.9 594.6" style="stroke-width:3"/>
<path class="p" d="M989.2 635.3L1008 644.3" style="stroke-width:2.6"/>
<path class="p" d="M961.4 586.3C960.5 588.6 957.7 594.7 956.4 600.1C955 605.6 954 612.7 953.2 618.9C952.5 625.2 952 633.4 952 637.7C952 642.1 952.5 641.3 953.2 645C954 648.8 955 655.3 956.4 660.1C957.7 664.9 959.5 669.7 961.4 673.9C963.2 678 966.6 683.3 967.6 685.1"/>
</g>
<g id="part10" style="stroke-width:2.1px">
<path class="pw" d="M1069.4 720.3A43.5 72.5 20 0 1 1122.6 587.6L1138.8 590.3A46.2 77 20 1 1 1082.4 731.2Z"/>
<path class="pw" d="M1091.5 592.4L1102.4 597.5L1113.3 593.6L1114.9 591.3L1105.5 587.7L1118 585L1113.3 581.1L1091.5 585.8Z" style="stroke:none"/>
<path class="p" d="M1092.3 593.6L1102.4 597.5L1113.3 593.6L1114.9 591.3L1105.5 588.1L1118 585"/>
<ellipse class="pw" cx="1117.5" cy="664" rx="46.2" ry="77" transform="rotate(20 1117.5 664)"/>
<ellipse class="p" cx="1118.5" cy="664.5" rx="44.7" ry="74.5" transform="rotate(20 1118.5 664.5)" style="stroke-width:1.2"/>
<ellipse class="pw" cx="1124.2" cy="667.6" rx="38.4" ry="64" transform="rotate(20 1124.2 667.6)"/>
<ellipse class="p" cx="1125" cy="668" rx="36.6" ry="61" transform="rotate(20 1125 668)" style="stroke-width:1.2"/>
<clipPath id="cpG"><ellipse class="p" cx="1125.5" cy="668.5" rx="34.2" ry="57" transform="rotate(20 1125.5 668.5)"/></clipPath>
<g clip-path="url(#cpG)">
<path class="k" d="M1101.2 637.4L1117.5 630.7L1118.7 636.4L1133.8 634.7L1130.5 623.4L1148.6 615.7L1163.5 619.2L1178.8 647.9L1175 686.3L1155.8 707.3L1141.5 710.6L1129.4 711.6L1131.3 707.9L1121 712.5L1119.8 720.2L1101.2 726.9L1079.2 715L1077.3 672.8L1088.8 646Z"/>
<path class="p" d="M1085 644L1165 616" style="stroke:#fff;stroke-width:0.7;stroke-dasharray:1.2 4.5;opacity:.8"/>
<path class="p" d="M1085 653L1165 625" style="stroke:#fff;stroke-width:0.7;stroke-dasharray:1.2 4.5;opacity:.8"/>
<path class="p" d="M1085 662L1165 634" style="stroke:#fff;stroke-width:0.7;stroke-dasharray:1.2 4.5;opacity:.8"/>
<path class="p" d="M1085 671L1165 643" style="stroke:#fff;stroke-width:0.7;stroke-dasharray:1.2 4.5;opacity:.8"/>
<path class="p" d="M1085 680L1165 652" style="stroke:#fff;stroke-width:0.7;stroke-dasharray:1.2 4.5;opacity:.8"/>
<path class="p" d="M1085 689L1165 661" style="stroke:#fff;stroke-width:0.7;stroke-dasharray:1.2 4.5;opacity:.8"/>
<path class="p" d="M1085 698L1165 670" style="stroke:#fff;stroke-width:0.7;stroke-dasharray:1.2 4.5;opacity:.8"/>
<path class="p" d="M1085 707L1165 679" style="stroke:#fff;stroke-width:0.7;stroke-dasharray:1.2 4.5;opacity:.8"/>
<path class="p" d="M1085 716L1165 688" style="stroke:#fff;stroke-width:0.7;stroke-dasharray:1.2 4.5;opacity:.8"/>
<path class="p" d="M1085 725L1165 697" style="stroke:#fff;stroke-width:0.7;stroke-dasharray:1.2 4.5;opacity:.8"/>
<path class="p" d="M1085 734L1165 706" style="stroke:#fff;stroke-width:0.7;stroke-dasharray:1.2 4.5;opacity:.8"/>
<path class="p" d="M1117.5 630.7L1118.5 641.2L1115.6 644.1L1114.6 657.5L1110.2 661.3L1108.9 684.3L1112.7 690.1L1113.7 703.5L1118.5 707.3L1119.8 719.8M1133.8 634.7L1138.2 638.3L1139 646L1144.3 654.6L1144.3 663.3L1140.5 684.3L1136.7 690.1L1136.3 704.5L1131.3 707.9" style="stroke:#fff;stroke-width:1.5;stroke-linejoin:miter"/>
<path class="p" d="M1119 666.5L1132.5 661.9L1134.4 674L1121 679Z" style="fill:#fff;stroke:#fff;stroke-width:1"/>
</g>
<ellipse class="p" cx="1113.7" cy="676.7" rx="3.4" ry="4.4" transform="rotate(20 1113.7 676.7)" style="stroke-width:1.4;fill:#fff"/>
<ellipse class="p" cx="1136.7" cy="666.1" rx="3.4" ry="4.4" transform="rotate(20 1136.7 666.1)" style="stroke-width:1.4;fill:#fff"/>
</g>
<g id="bolts2">
<path class="p" d="M987.5 562.3L998.4 567.8" style="stroke-width:6.4;stroke-linecap:round"/>
<path class="p" d="M988.4 562.7L998.4 567.8" style="stroke-width:7.8;stroke-linecap:butt;stroke-dasharray:1.7 1.2"/>
<ellipse class="pw" cx="1000.9" cy="569" rx="3.7" ry="5.9" transform="rotate(20 1000.9 569)" style="stroke-width:2.8"/><path class="pw" d="M999.6 564.7L1004.1 564.5L1006.9 567.9L1006.4 573L1002.6 574.9L999.5 572.6Z" style="stroke-width:1.5"/><ellipse class="p" cx="1004.1" cy="569.9" rx="2.2" ry="3.4" transform="rotate(20 1004.1 569.9)" style="stroke-width:1.2"/><path class="p" d="M999.6 564.7L1002.2 567.1L1001.6 572.1L999.5 572.6M1002.2 567.1L1004.1 564.5" style="stroke-width:1"/>
<path class="p" d="M1009 704.3L1019.7 708.8" style="stroke-width:6.4;stroke-linecap:round"/>
<path class="p" d="M1009.9 704.7L1019.7 708.8" style="stroke-width:7.8;stroke-linecap:butt;stroke-dasharray:1.7 1.2"/>
<ellipse class="pw" cx="1022.3" cy="709.8" rx="3.7" ry="5.9" transform="rotate(20 1022.3 709.8)" style="stroke-width:2.8"/><path class="pw" d="M1021 705.5L1025.5 705.3L1028.3 708.7L1027.8 713.8L1024 715.7L1020.9 713.4Z" style="stroke-width:1.5"/><ellipse class="p" cx="1025.5" cy="710.7" rx="2.2" ry="3.4" transform="rotate(20 1025.5 710.7)" style="stroke-width:1.2"/><path class="p" d="M1021 705.5L1023.6 707.9L1023 712.9L1020.9 713.4M1023.6 707.9L1025.5 705.3" style="stroke-width:1"/>
<path class="p" d="M1209.5 701L1220.4 706.3" style="stroke-width:6.4;stroke-linecap:round"/>
<path class="p" d="M1210.4 701.4L1220.4 706.3" style="stroke-width:7.8;stroke-linecap:butt;stroke-dasharray:1.7 1.2"/>
<ellipse class="pw" cx="1222.9" cy="707.4" rx="3.7" ry="5.9" transform="rotate(20 1222.9 707.4)" style="stroke-width:2.8"/><path class="pw" d="M1221.6 703.1L1226.1 702.9L1228.9 706.3L1228.4 711.4L1224.6 713.3L1221.5 711Z" style="stroke-width:1.5"/><ellipse class="p" cx="1226.1" cy="708.3" rx="2.2" ry="3.4" transform="rotate(20 1226.1 708.3)" style="stroke-width:1.2"/><path class="p" d="M1221.6 703.1L1224.2 705.5L1223.6 710.5L1221.5 711M1224.2 705.5L1226.1 702.9" style="stroke-width:1"/>
<path class="p" d="M1192.5 722.5L1203.4 727.8" style="stroke-width:6.4;stroke-linecap:round"/>
<path class="p" d="M1193.4 722.9L1203.4 727.8" style="stroke-width:7.8;stroke-linecap:butt;stroke-dasharray:1.7 1.2"/>
<ellipse class="pw" cx="1205.9" cy="728.9" rx="3.7" ry="5.9" transform="rotate(20 1205.9 728.9)" style="stroke-width:2.8"/><path class="pw" d="M1204.6 724.6L1209.1 724.4L1211.9 727.8L1211.4 732.9L1207.6 734.8L1204.5 732.5Z" style="stroke-width:1.5"/><ellipse class="p" cx="1209.1" cy="729.8" rx="2.2" ry="3.4" transform="rotate(20 1209.1 729.8)" style="stroke-width:1.2"/><path class="p" d="M1204.6 724.6L1207.2 727L1206.6 732L1204.5 732.5M1207.2 727L1209.1 724.4" style="stroke-width:1"/>
</g>
<g id="washer">
<ellipse class="pw" cx="497.8" cy="362.2" rx="9" ry="15" transform="rotate(20 497.8 362.2)"/>
<ellipse class="pw" cx="499.8" cy="363" rx="8.8" ry="14.6" transform="rotate(20 499.8 363)"/>
<ellipse class="pw" cx="499.3" cy="364" rx="3.2" ry="4.8" transform="rotate(20 499.3 364)" style="stroke-width:1.5"/>
</g>
<g id="part13">
<path class="pw" d="M820.5 108.8C819.4 109.4 815.7 110.4 813.8 112.5C811.8 114.6 809.8 118.1 808.8 121.2C807.7 124.4 807.3 128.1 807.5 131.2C807.7 134.4 808.1 138 810 140C811.9 142 817.3 142.5 818.8 143L827.5 144.2L829.5 137.5L831.2 132.5L833 123.8L835.5 117.5L828.8 116.2Z" style="stroke-width:1.8"/>
<path class="p" d="M820 110C819.2 111.2 816.5 114.8 815.5 117.5C814.5 120.2 813.9 123.2 814 126.2C814.1 129.2 815 133.1 816.2 135.5C817.5 137.9 820.4 139.9 821.2 140.8M828 116.2C827.3 117.3 824.7 120.2 823.8 122.5C822.8 124.8 822.4 127.5 822.5 130C822.6 132.5 823.7 135.6 824.5 137.5C825.3 139.4 827 140.6 827.5 141.2M810 140L817 138" style="stroke-width:1.5"/>
</g>
<!-- LABELS -->
<g class="lbl" id="labels">
<text x="77.3" y="531.8">1</text>
<text x="258" y="424">2</text>
<text x="342" y="493">3</text>
<text x="389" y="578">4</text>
<text x="535" y="247">5</text>
<text x="617" y="687.5">6</text>
<text x="712" y="726">7</text>
<text x="833" y="738.5">8</text>
<text x="1022" y="452">9</text>
<text x="1152" y="531">10</text>
<text x="1072.9" y="492">11</text>
<text x="1171.5" y="612.5">12</text>
<text x="929.5" y="205">13</text>
</g>
<g fill="#fff" id="lblmask">
<rect x="82.3" y="528.9" width="9.4" height="3.6"/>
<rect x="95.2" y="528.9" width="9.4" height="3.6"/>
<rect x="1157" y="528.1" width="9.4" height="3.6"/>
<rect x="1169.9" y="528.1" width="9.4" height="3.6"/>
<rect x="1077.9" y="489.1" width="9.4" height="3.6"/>
<rect x="1090.8" y="489.1" width="9.4" height="3.6"/>
<rect x="1109.9" y="489.1" width="9.4" height="3.6"/>
<rect x="1122.8" y="489.1" width="9.4" height="3.6"/>
<rect x="1176.5" y="609.6" width="9.4" height="3.6"/>
<rect x="1189.4" y="609.6" width="9.4" height="3.6"/>
<rect x="934.5" y="202.1" width="9.4" height="3.6"/>
<rect x="947.4" y="202.1" width="9.4" height="3.6"/>
</g>

<rect x="1231.5" y="734" width="1.5" height="22" fill="#000"/>
</svg>
</body></html>
